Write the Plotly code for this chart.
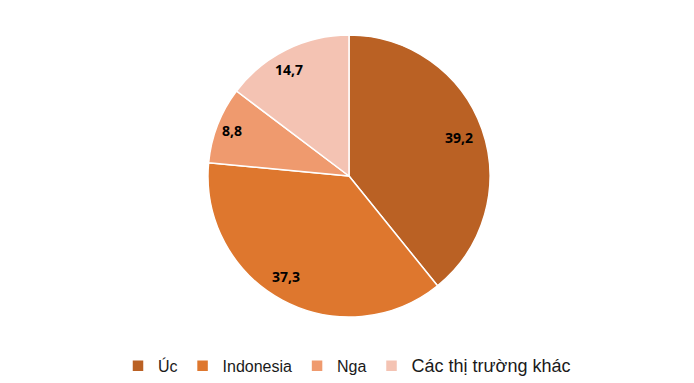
import math
import plotly.graph_objects as go

labels = ["Úc", "Indonesia", "Nga", "Các thị trường khác"]
values = [39.2, 37.3, 8.8, 14.7]
text_labels = ["39,2", "37,3", "8,8", "14,7"]
colors = ["#BA6124", "#DE772E", "#EF9A6E", "#F4C3B3"]

W, H = 694, 383
cx, cy, R = 349, 176, 141  # pie centre / radius in pixels (top-left origin)

legend_names = [
    "<span style='font-size:16px'>" + labels[0] + "</span>",
    "<span style='font-size:16px'>" + labels[1] + "</span>",
    "<span style='font-size:16px'>" + labels[2] + "</span>",
    "<span style='font-size:18px'>" + labels[3] + "</span>",
]

fig = go.Figure(go.Pie(
    labels=legend_names,
    values=values,
    textinfo="none",
    marker=dict(colors=colors, line=dict(color="white", width=1.5)),
    sort=False,
    direction="clockwise",
    rotation=0,
    domain=dict(x=[(cx - R) / W, (cx + R) / W], y=[(H - cy - R) / H, (H - cy + R) / H]),
    hoverinfo="label+value",
))

# data labels placed along each slice's mid-angle (Excel "best fit" style)
total = sum(values)
cum = 0.0
label_r = [0.83, 0.84, 0.89, 0.87]
label_shift_deg = [0, 4, 0, -3]
for v, t, rf, sh in zip(values, text_labels, label_r, label_shift_deg):
    mid = (cum + v / 2) / total * 2 * math.pi + math.radians(sh)
    cum += v
    px = cx + rf * R * math.sin(mid)
    py = cy - rf * R * math.cos(mid)
    fig.add_annotation(
        x=px / W, y=1 - py / H, xref="paper", yref="paper",
        text="<b>" + t + "</b>", showarrow=False,
        font=dict(family="Open Sans", size=14, color="black"),
        xanchor="center", yanchor="middle",
    )

fig.update_layout(
    width=W, height=H,
    margin=dict(l=0, r=0, t=0, b=0),
    paper_bgcolor="white",
    showlegend=True,
    legend=dict(orientation="h", x=0.5, xanchor="center", y=0.045, yanchor="middle",
                font=dict(family="Liberation Sans", size=16, color="#1a1a1a"),
                itemwidth=30, tracegroupgap=0),
)

fig.write_html("out.html")
